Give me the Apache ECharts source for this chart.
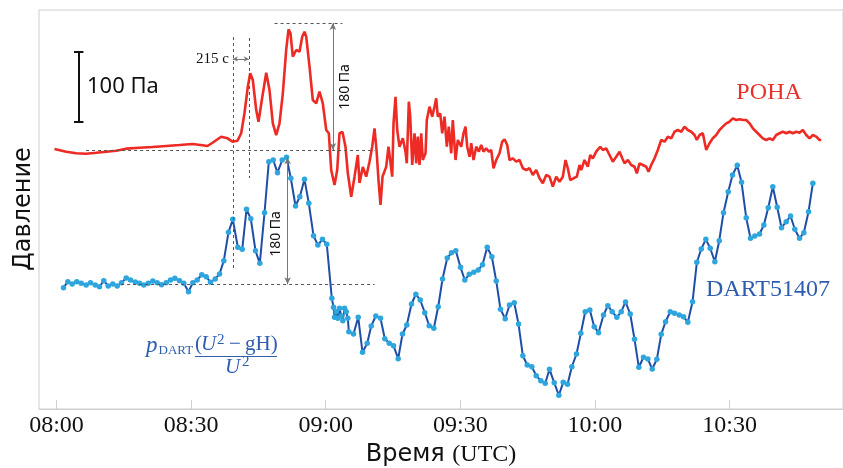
<!DOCTYPE html>
<html><head><meta charset="utf-8">
<script src="https://cdn.jsdelivr.net/npm/echarts@6/dist/echarts.min.js"></script>
<style>html,body{margin:0;padding:0;background:#fff}#c{width:843px;height:468px}</style>
</head><body><div id="c"></div>
<script>
// time in minutes after 08:00 UTC, pressure in Pa (arbitrary offsets per gauge)
const redTime = [-0.45,2.16,4.39,6.62,8.85,11.08,13.31,15.53,18.50,21.40,
24.45,27.41,30.31,32.54,33.65,34.77,36.71,38.11,39.23,40.34,
41.16,41.90,42.64,43.17,43.75,44.51,45.02,45.76,46.74,47.47,
48.21,48.96,49.70,50.44,51.19,51.71,52.15,52.66,53.42,54.16,
54.76,55.27,55.65,56.39,57.12,57.88,58.61,59.35,60.11,60.69,
61.22,61.96,62.56,63.07,63.74,64.41,64.92,65.68,66.42,67.15,
67.53,68.27,69.02,69.76,70.36,70.87,71.32,71.76,72.21,72.66,
73.48,73.99,74.37,74.82,75.11,75.55,75.93,76.44,77.18,77.78,
78.07,78.52,78.83,79.28,79.79,80.17,80.52,80.90,81.28,81.64,
82.24,82.53,83.13,83.73,84.24,84.62,84.98,85.52,85.96,86.47,
86.99,87.43,87.97,88.32,88.93,89.44,90.20,90.71,91.15,91.53,
92.05,92.43,92.94,93.54,94.12,94.65,95.17,95.77,96.35,96.88,
97.39,98.00,98.73,99.33,99.85,100.45,100.96,101.70,102.45,103.19,
103.93,104.68,105.42,106.15,106.91,107.65,108.38,109.14,109.87,110.61,
111.37,112.10,112.84,113.44,113.95,114.49,115.22,115.96,116.56,
116.94,117.68,118.41,118.95,119.53,120.28,121.18,121.76,122.51,123.25,123.98,
124.74,125.48,126.08,126.59,127.33,128.08,128.82,129.33,129.93,130.67,
131.43,131.94,132.54,133.28,134.01,134.77,135.51,136.24,137.00,137.73,
138.47,139.23,139.96,140.70,141.46,142.19,142.71,143.31,144.04,144.80,
145.53,146.27,147.03,147.76,148.50,149.26,149.99,150.73,151.48,152.22,
152.96,153.71,154.45,155.19,155.94,156.68,157.41,158.17,158.91,159.64,
160.40,161.13,161.87,162.63,163.36,164.10,164.86,165.59,166.33,167.09,
167.82,168.56,169.32,170.05,170.43];
const redPa = [371.4,367.6,365.3,364.7,366.1,367.6,369.0,371.9,373.3,374.3,
375.7,377.1,378.6,376.7,375.7,380.4,389.0,386.7,381.9,383.3,
393.9,422.9,460.4,479.6,470.0,427.1,410.4,441.4,480.4,455.7,
408.1,391.4,408.1,451.0,512.9,542.4,536.7,503.3,512.9,510.4,
531.9,539.0,531.9,489.0,441.4,436.7,453.3,436.7,398.6,393.9,
341.4,320.0,341.4,393.9,395.7,374.3,337.1,303.3,331.9,362.9,
322.9,345.7,331.9,353.3,374.7,401.0,370.0,327.1,291.4,331.9,
346.1,374.7,377.1,331.9,408.1,446.1,398.6,374.7,386.7,367.6,
351.0,439.0,417.6,348.6,393.9,351.0,389.0,348.6,393.9,355.7,
365.3,412.9,431.9,417.6,431.9,443.9,417.6,422.4,393.9,417.6,
374.7,403.3,365.3,412.9,355.7,384.3,374.7,393.9,403.3,374.7,
360.4,379.6,355.7,374.7,367.6,377.1,367.6,372.4,367.6,370.0,
343.9,355.7,365.3,381.9,385.3,377.1,355.7,358.1,353.3,355.7,
343.9,341.4,343.9,334.3,341.4,329.6,322.4,334.3,331.9,317.6,
331.9,324.7,331.9,355.7,343.9,327.1,329.6,331.9,348.6,
341.4,355.7,346.1,362.9,358.1,367.6,374.7,370.0,372.4,362.9,353.3,
360.4,367.6,358.1,351.0,355.7,348.6,346.1,336.7,351.0,348.6,
346.1,339.0,348.6,358.1,370.0,384.3,381.9,389.0,386.7,396.1,
398.6,396.1,403.3,398.6,396.1,391.4,384.3,391.4,393.9,370.0,
379.6,386.7,391.4,398.6,403.3,408.1,410.4,415.3,412.9,413.9,
412.9,412.9,408.1,401.0,396.1,391.4,386.7,384.3,386.7,384.3,
391.4,393.9,396.1,393.9,396.1,393.9,396.1,394.7,398.6,391.4,
386.7,391.4,389.0,384.3,384.3];
const blueTime = [1.56,2.52,3.50,4.52,5.50,6.62,7.58,8.63,9.58,10.54,
11.52,12.55,13.53,14.49,15.53,16.49,17.54,18.50,19.46,20.44,
21.46,22.44,23.40,24.45,25.41,26.37,27.41,28.37,29.42,30.38,
31.36,32.38,33.36,34.32,35.37,36.33,37.29,38.33,39.29,40.41,
41.39,42.35,43.30,44.35,45.31,46.36,47.32,48.30,49.25,50.30,
51.26,52.22,53.27,54.22,55.27,56.23,57.28,58.24,59.28,60.24,
61.36,61.74,61.96,62.34,62.69,63.07,63.45,63.81,64.19,64.57,
64.92,65.15,66.19,67.24,68.20,69.25,70.14,71.16,72.21,73.17,
74.15,75.11,76.15,77.11,78.07,79.12,80.08,81.06,82.08,83.06,
84.09,85.07,86.03,87.08,88.03,88.99,90.04,91.00,91.98,93.00,
93.98,94.94,95.99,97.02,98.00,98.95,100.00,100.96,102.01,102.97,
103.93,104.91,105.93,106.91,107.94,108.92,109.87,110.92,111.95,112.93,
113.89,114.85,115.89,116.85,117.83,118.86,119.84,120.80,
121.91,122.87,123.85,124.88,125.86,126.81,127.86,128.82,129.78,130.82,131.79,132.76,
133.79,134.77,135.73,136.78,137.73,138.78,139.74,140.70,141.75,142.71,
143.69,144.71,145.69,146.72,147.70,148.65,149.70,150.66,151.71,152.67,
153.71,154.67,155.63,156.68,157.64,158.62,159.64,160.62,161.58,162.63,
163.59,164.54,165.59,166.55,167.60,168.56];
const bluePa = [173.3,181.9,178.6,181.9,179.6,177.1,180.4,177.1,174.7,183.3,
175.7,178.6,175.7,180.4,187.1,184.3,181.4,179.6,177.1,179.6,
182.9,180.4,177.6,180.4,184.3,186.7,183.3,179.6,167.6,180.4,
184.3,191.9,189.0,181.0,185.7,192.9,211.9,252.4,271.0,231.0,
228.1,285.3,271.9,226.1,208.1,280.4,353.3,355.7,337.6,355.7,
359.6,329.6,290.0,303.3,328.1,293.9,247.6,234.3,242.4,235.4,
158.1,145.3,131.0,139.0,129.6,143.9,132.9,126.1,143.9,139.0,
129.6,110.4,107.1,131.0,81.0,93.9,118.6,132.9,129.6,100.4,
93.9,90.4,71.9,107.1,120.0,150.0,163.9,155.7,137.6,119.0,
115.3,146.1,185.7,215.7,223.3,226.1,202.4,184.3,192.4,195.3,
198.6,206.1,231.0,217.6,182.9,142.4,129.0,148.6,151.9,121.4,
76.1,62.9,60.4,47.6,40.4,36.7,56.7,37.6,19.6,38.1,
35.3,60.4,78.6,108.1,139.0,141.4,117.6,109.0,
134.3,147.6,139.0,131.0,139.0,152.9,135.7,99.6,59.6,73.9,71.4,57.1,
71.0,106.7,124.7,139.0,136.7,134.3,131.9,123.9,153.3,209.6,
228.6,242.4,229.6,210.4,240.4,280.4,310.4,334.3,348.1,323.9,
273.3,243.9,247.1,250.0,262.9,287.6,317.6,288.1,259.0,267.6,
275.7,256.7,243.9,251.9,281.9,322.4];
const tickMinutes = [0, 30, 60, 90, 120, 150];
const tickLabels = ['08:00', '08:30', '09:00', '09:30', '10:00', '10:30'];
// annotation segments [time, Pa]
const dashedLines = [
  [[6.6, 370], [70.9, 370]],
  [[14.4, 178.1], [70.9, 178.1]],
  [[48.6, 551.4], [63.7, 551.4]],
  [[39.3, 531.4], [39.3, 198.6]],
  [[42.85, 530], [42.85, 330]]
];
const arrowLines = [
  [[61.6, 551.4], [61.6, 370]],
  [[51.5, 359.6], [51.5, 178.1]],
  [[39.3, 500], [42.85, 500]]
];
const scaleBar = [
  [[4.97, 510], [4.97, 410]],
  [[3.9, 510], [6.0, 510]],
  [[3.9, 410], [6.0, 410]]
];

const zip = (a, b) => a.slice(0, Math.min(a.length, b.length)).map((v, i) => [v, b[i]]);
const seg = (s, extra) => [Object.assign({coord: s[0]}, extra), Object.assign({coord: s[1]}, extra)];

const mlData = [];
dashedLines.forEach(s => { const d = seg(s, {symbol: 'none'}); d[0].lineStyle = {type: [3, 3], color: '#555', width: 1}; mlData.push(d); });
arrowLines.forEach((s, i) => { const d = seg(s, {symbol: 'arrow', symbolSize: i === 2 ? [4, 5] : [5, 7]}); d[0].lineStyle = {type: 'solid', color: '#777', width: 1}; mlData.push(d); });
scaleBar.forEach(s => { const d = seg(s, {symbol: 'none'}); d[0].lineStyle = {type: 'solid', color: '#111', width: 2}; mlData.push(d); });

const chart = echarts.init(document.getElementById('c'), null, {renderer: 'canvas'});
const blueTxt = '#2e5db0';
const serif = '"Liberation Serif", "DejaVu Serif", serif';
const txt = (o) => ({type: 'text', silent: true, ...o});
chart.setOption({
  animation: false,
  grid: {left: 39, right: 0, top: 10, bottom: 59, show: true, borderColor: '#cfcfcf', borderWidth: 1},
  xAxis: {
    type: 'value', min: -3.9, max: 175.28,
    axisLine: {show: true, lineStyle: {color: '#cfcfcf'}},
    splitLine: {show: false},
    axisTick: {show: true, inside: true, length: 9, lineStyle: {color: '#cfcfcf'}, customValues: tickMinutes},
    axisLabel: {
      customValues: tickMinutes, margin: 5,
      formatter: v => tickLabels[tickMinutes.indexOf(Math.round(v))] || '',
      fontFamily: serif, fontSize: 24, color: '#111'
    }
  },
  yAxis: {type: 'value', min: 0, max: 570, show: false, splitLine: {show: false}},
  series: [
    {
      type: 'line', data: zip(redTime, redPa), showSymbol: false, symbol: 'none',
      lineStyle: {color: '#ee2a24', width: 2.6}, z: 3,
      markLine: {silent: true, animation: false, label: {show: false}, data: mlData}
    },
    {
      type: 'line', data: zip(blueTime, bluePa), symbol: 'circle', symbolSize: 5.5, showSymbol: true,
      lineStyle: {color: '#1f4ea6', width: 2}, itemStyle: {color: '#2ea6dd', borderWidth: 0}, z: 4
    }
  ],
  graphic: [
    txt({x: 87, y: 87, style: {text: '100 Па', font: '22px "Noto Sans", sans-serif', fill: '#111', align: 'left', verticalAlign: 'middle'}}),
    txt({x: 229, y: 59, style: {text: '215 с', font: '15px ' + serif, fill: '#111', align: 'right', verticalAlign: 'middle'}}),
    txt({x: 345, y: 87, rotation: Math.PI / 2, style: {text: '180 Па', font: '14px "Noto Sans", sans-serif', fill: '#111', align: 'center', verticalAlign: 'middle'}}),
    txt({x: 276, y: 234, rotation: Math.PI / 2, style: {text: '180 Па', font: '14px "Noto Sans", sans-serif', fill: '#111', align: 'center', verticalAlign: 'middle'}}),
    txt({x: 769, y: 93, style: {text: 'РОНА', font: '24px ' + serif, fill: '#e8302c', align: 'center', verticalAlign: 'middle'}}),
    txt({x: 768, y: 290, style: {text: 'DART51407', font: '24px ' + serif, fill: blueTxt, align: 'center', verticalAlign: 'middle'}}),
    txt({x: 24, y: 209, rotation: Math.PI / 2, style: {text: 'Давление', font: '24px "DejaVu Sans", sans-serif', fill: '#111', align: 'center', verticalAlign: 'middle'}}),
    txt({x: 441, y: 455, style: {
      text: '{a|Время }{b|(UTC)}', align: 'center', verticalAlign: 'middle',
      rich: {a: {fontFamily: '"DejaVu Sans", sans-serif', fontSize: 24, fill: '#111', color: '#111'},
             b: {fontFamily: serif, fontSize: 24, fill: '#111', color: '#111'}}
    }}),
    // formula
    txt({x: 146, y: 345.5, style: {text: 'p', font: 'italic 23px ' + serif, fill: blueTxt, align: 'left', verticalAlign: 'middle'}}),
    txt({x: 158.5, y: 350.5, style: {text: 'DART', font: '13px ' + serif, fill: blueTxt, align: 'left', verticalAlign: 'middle'}}),
    txt({x: 195, y: 344.9, style: {text: '(', font: '21px ' + serif, fill: blueTxt, align: 'left', verticalAlign: 'middle'}}),
    txt({x: 201, y: 344.9, style: {text: 'U', font: 'italic 21px ' + serif, fill: blueTxt, align: 'left', verticalAlign: 'middle'}}),
    txt({x: 217, y: 340, style: {text: '2', font: '15px ' + serif, fill: blueTxt, align: 'left', verticalAlign: 'middle'}}),
    txt({x: 229, y: 344.9, style: {text: '−', font: '21px ' + serif, fill: blueTxt, align: 'left', verticalAlign: 'middle'}}),
    txt({x: 245, y: 344.9, style: {text: 'gH)', font: '21px ' + serif, fill: blueTxt, align: 'left', verticalAlign: 'middle'}}),
    {type: 'line', silent: true, shape: {x1: 195, y1: 356.5, x2: 277, y2: 356.5}, style: {stroke: blueTxt, lineWidth: 1}},
    txt({x: 225, y: 367.9, style: {text: 'U', font: 'italic 21px ' + serif, fill: blueTxt, align: 'left', verticalAlign: 'middle'}}),
    txt({x: 242, y: 362, style: {text: '2', font: '15px ' + serif, fill: blueTxt, align: 'left', verticalAlign: 'middle'}})
  ]
});
</script></body></html>
